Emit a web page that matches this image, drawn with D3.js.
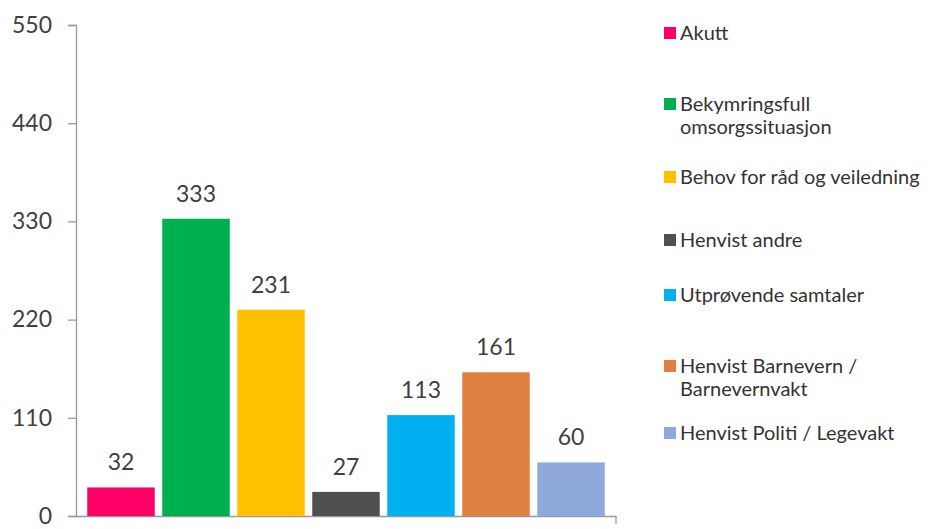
<!DOCTYPE html>
<html>
<head>
<meta charset="utf-8">
<script src="https://cdn.jsdelivr.net/npm/d3@7"></script>
<style>
  body { margin: 0; background: #fff; }
  svg text { font-family: Lato, "Open Sans", sans-serif; }
</style>
</head>
<body>
<div id="chart"></div>
<script>
// Data
const categories = [
    'Akutt',
    'Bekymringsfull omsorgssituasjon',
    'Behov for råd og veiledning',
    'Henvist andre',
    'Utprøvende samtaler',
    'Henvist Barnevern / Barnevernvakt',
    'Henvist Politi / Legevakt'
];
const values = [32, 333, 231, 27, 113, 161, 60];
const yTicks = [0, 110, 220, 330, 440, 550];

// legend labels split on lines, as in the picture
const legendLines = [
    ['Akutt'],
    ['Bekymringsfull', 'omsorgssituasjon'],
    ['Behov for råd og veiledning'],
    ['Henvist andre'],
    ['Utprøvende samtaler'],
    ['Henvist Barnevern /', 'Barnevernvakt'],
    ['Henvist Politi / Legevakt']
];

const colors = ['#FF0066', '#00B050', '#FFC000', '#505050', '#00B0F0', '#DD8040', '#8EA9DB'];

const width = 936;
const height = 529;

const svg = d3.select('#chart').append('svg')
    .attr('width', width)
    .attr('height', height);

// Scales
const x = d3.scaleBand()
    .domain(categories)
    .range([76, 616])
    .paddingInner(0.1)
    .paddingOuter(0.15);

const y = d3.scaleLinear()
    .domain([0, 550])
    .range([516, 25]);

// Y axis
const yAxis = svg.append('g')
    .attr('transform', 'translate(76,0)')
    .call(d3.axisLeft(y).tickValues(yTicks).tickSize(8).tickPadding(16));
yAxis.select('.domain').attr('stroke', '#999').attr('stroke-width', 1.3);
yAxis.selectAll('.tick line').attr('stroke', '#999').attr('stroke-width', 1.3);
yAxis.selectAll('.tick text')
    .style('font-size', '23px')
    .attr('fill', '#404040');

// X axis (baseline only)
const xAxis = svg.append('g')
    .attr('transform', 'translate(0,516)')
    .call(d3.axisBottom(x).tickSize(0).tickFormat(''));
xAxis.select('.domain').attr('stroke', '#999').attr('stroke-width', 1.3);
svg.append('line')
    .attr('x1', 616).attr('x2', 616)
    .attr('y1', 516).attr('y2', 524)
    .attr('stroke', '#999').attr('stroke-width', 1.3);

// Bars
svg.selectAll('rect.bar')
    .data(values)
    .join('rect')
    .attr('class', 'bar')
    .attr('x', (d, i) => x(categories[i]))
    .attr('y', d => y(d))
    .attr('width', x.bandwidth())
    .attr('height', d => y(0) - y(d))
    .attr('fill', (d, i) => colors[i]);

// Value labels
svg.selectAll('text.val')
    .data(values)
    .join('text')
    .attr('class', 'val')
    .attr('x', (d, i) => x(categories[i]) + x.bandwidth() / 2)
    .attr('y', d => y(d) - 17)
    .attr('text-anchor', 'middle')
    .style('font-size', '23px')
    .attr('fill', '#404040')
    .text(d => d);

// Legend (row centres picked to match the picture)
const legendY = [33, 104, 177, 240, 295, 366, 433];
const lineH = 23;

const legend = svg.selectAll('g.legend')
    .data(categories)
    .join('g')
    .attr('class', 'legend')
    .attr('transform', (d, i) => `translate(664,${legendY[i]})`);

legend.append('rect')
    .attr('x', 0)
    .attr('y', -6)
    .attr('width', 12)
    .attr('height', 12)
    .attr('fill', (d, i) => colors[i]);

legend.each(function(d, i) {
    const g = d3.select(this);
    legendLines[i].forEach((line, j) => {
        g.append('text')
            .attr('x', 16)
            .attr('y', j * lineH)
            .attr('dy', '0.35em')
            .style('font-size', '20px')
            .attr('fill', '#333')
            .text(line);
    });
});
</script>
</body>
</html>
